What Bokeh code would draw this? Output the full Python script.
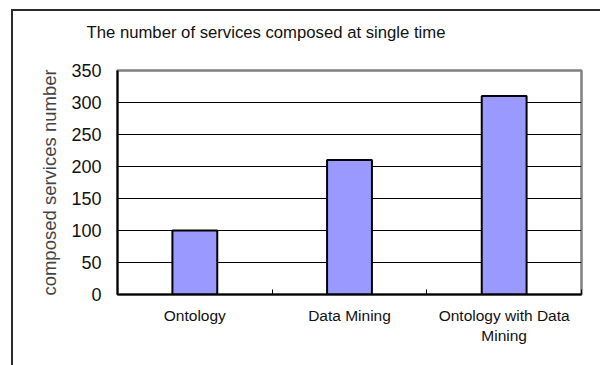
from bokeh.plotting import figure
from bokeh.models import Range1d, FixedTicker, ColumnDataSource, Title
from bokeh.embed import file_html
from bokeh.resources import INLINE

# Data
categories = ["Ontology", "Data Mining", "Ontology with Data\nMining"]
values = [100, 210, 310]
y_ticks = [0, 50, 100, 150, 200, 250, 300, 350]

FONT = "Liberation Sans"

xs = [i + 0.5 for i in range(len(categories))]
source = ColumnDataSource(dict(x=xs, top=values))

# the figure sits inside a chart-area frame drawn with left/top borders
p = figure(
    width=589, height=356,
    x_range=Range1d(0, len(categories)),
    y_range=Range1d(0, y_ticks[-1]),
    output_backend="svg", toolbar_location=None,
    min_border_left=104, min_border_right=21,
    min_border_top=59, min_border_bottom=73,
    title="The number of services composed at single time",
    margin=(9, 0, 0, 11),
    styles={"border-left": "2px solid #2b2b2b", "border-top": "2px solid #2b2b2b"},
)

p.vbar(x="x", top="top", width=0.29, source=source,
       fill_color="#9999FF", line_color="#000000", line_width=2)

# title
p.title.text_font = FONT
p.title.text_font_size = "16.7px"
p.title.text_font_style = "normal"
p.title.text_color = "#111111"
p.title.align = "left"
p.title.offset = -31

# blank spacer between title and plot area
p.add_layout(Title(text=" ", text_font_size="11px"), "above")

# plot area border
p.outline_line_color = "#808080"
p.outline_line_width = 2.5

# y axis
p.yaxis.ticker = FixedTicker(ticks=y_ticks)
p.yaxis.axis_label = "composed services number"
p.yaxis.axis_label_text_font = FONT
p.yaxis.axis_label_text_font_size = "18.5px"
p.yaxis.axis_label_text_font_style = "normal"
p.yaxis.axis_label_standoff = 8
p.yaxis.major_label_text_font = FONT
p.yaxis.major_label_text_font_size = "18px"
p.yaxis.major_label_text_color = "#111111"
p.yaxis.major_label_standoff = 16
p.yaxis.axis_line_color = "#000000"
p.yaxis.axis_line_width = 2
p.yaxis.major_tick_in = 0
p.yaxis.major_tick_out = 0
p.yaxis.minor_tick_in = 0
p.yaxis.minor_tick_out = 0

# x axis: labels at category centres, small ticks at category boundaries
p.xaxis.ticker = FixedTicker(ticks=xs, minor_ticks=list(range(len(categories) + 1)))
p.xaxis.major_label_overrides = {x: c for x, c in zip(xs, categories)}
p.xaxis.major_label_text_font = FONT
p.xaxis.major_label_text_font_size = "15.5px"
p.xaxis.major_label_text_color = "#111111"
p.xaxis.major_label_standoff = 12
p.xaxis.axis_line_color = "#000000"
p.xaxis.axis_line_width = 2
p.xaxis.major_tick_in = 0
p.xaxis.major_tick_out = 0
p.xaxis.minor_tick_in = 5
p.xaxis.minor_tick_out = 0
p.xaxis.minor_tick_line_color = "#000000"

# grid
p.xgrid.grid_line_color = None
p.ygrid.grid_line_color = "#000000"
p.ygrid.grid_line_width = 1

open("out.html", "w").write(file_html(p, INLINE))
